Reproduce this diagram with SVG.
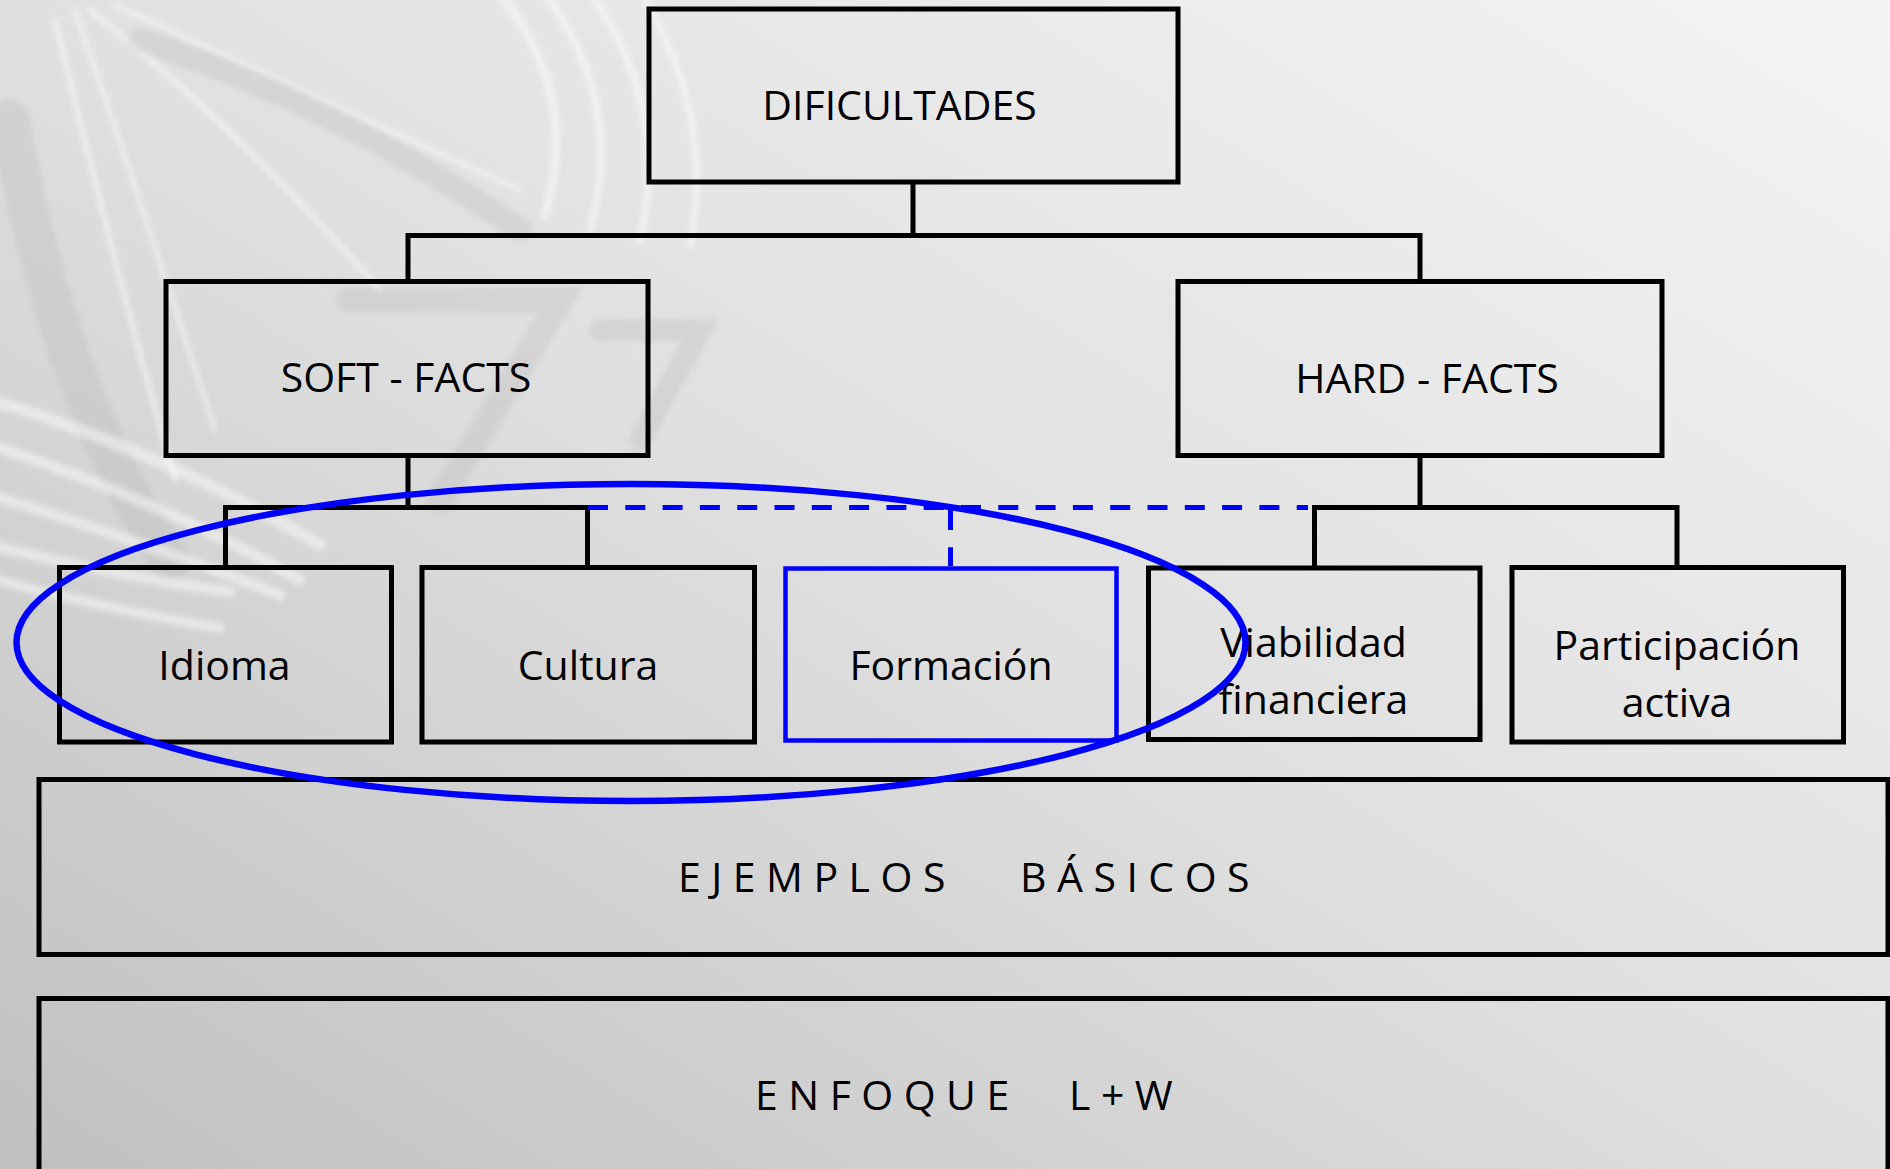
<svg xmlns="http://www.w3.org/2000/svg" width="1890" height="1169" viewBox="0 0 1890 1169">
<defs>
<linearGradient id="bg" x1="1" y1="0" x2="0" y2="1">
<stop offset="0" stop-color="#f4f4f4"/>
<stop offset="0.5" stop-color="#e0e0e0"/>
<stop offset="1" stop-color="#c0c0c0"/>
</linearGradient>
<filter id="soft" x="-10%" y="-10%" width="120%" height="120%">
<feGaussianBlur stdDeviation="2.5"/>
</filter>
<style>
.box{fill:none;stroke:#000;stroke-width:5}
.sel{fill:none;stroke:#0000ff;stroke-width:4.5}
.ln{fill:none;stroke:#000;stroke-width:5}
.dash{fill:none;stroke:#0000ff;stroke-width:5;stroke-dasharray:20 17.3}
.t{font-family:'Open Sans','Liberation Sans',sans-serif;font-size:41px;fill:#000}
.sp{letter-spacing:10.5px}
.wm{fill:none;stroke:#ffffff;stroke-opacity:0.45;stroke-linecap:round}
.wd{fill:none;stroke:#a8a8a8;stroke-opacity:0.22;stroke-linecap:round}
</style>
</defs>
<rect x="0" y="0" width="1890" height="1169" fill="url(#bg)"/>
<g id="watermark" filter="url(#soft)">
<path class="wd" stroke-width="40" d="M 10 120 Q 60 400 170 560"/>
<path class="wm" stroke-width="6" d="M 55 20 Q 110 250 175 480"/>
<path class="wm" stroke-width="5" d="M 75 10 Q 150 230 215 430"/>
<path class="wm" stroke-width="6" d="M 90 10 Q 230 120 380 290"/>
<path class="wm" stroke-width="5" d="M 115 5 Q 300 90 520 190"/>
<path class="wd" stroke-width="24" d="M 140 40 Q 330 100 520 230"/>
<path class="wm" stroke-width="9" d="M 505 0 Q 580 100 545 215"/>
<path class="wm" stroke-width="8" d="M 550 0 Q 625 110 590 230"/>
<path class="wm" stroke-width="8" d="M 595 0 Q 670 110 640 240"/>
<path class="wm" stroke-width="7" d="M 645 0 Q 715 120 690 245"/>
<path class="wm" stroke-width="12" d="M -10 400 Q 160 450 320 545"/>
<path class="wm" stroke-width="11" d="M -10 445 Q 160 500 300 580"/>
<path class="wm" stroke-width="11" d="M -10 495 Q 140 540 280 595"/>
<path class="wm" stroke-width="11" d="M -10 545 Q 110 575 230 592"/>
<path class="wm" stroke-width="10" d="M -10 578 Q 110 610 220 628"/>
<path class="wd" stroke-width="26" d="M 350 300 L 560 300 L 440 500"/>
<path class="wd" stroke-width="22" d="M 600 330 L 700 330 L 640 440"/>
</g>
<g id="connectors">
<path class="ln" d="M 913 182 V 235.5"/>
<path class="ln" d="M 408 281.5 V 235.5 H 1420 V 281.5"/>
<path class="ln" d="M 408 455.5 V 507.5"/>
<path class="ln" d="M 225.5 567.5 V 507.5 H 587.5 V 567.5"/>
<path class="ln" d="M 1420 455.5 V 507.5"/>
<path class="ln" d="M 1314.5 567.5 V 507.5 H 1677 V 567.5"/>
<path class="dash" d="M 588 507.5 H 1308"/>
<path class="dash" d="M 950.5 510 V 566"/>
</g>
<g id="dificultades">
<rect class="box" x="649" y="9" width="529" height="173"/>
<text class="t" x="899.5" y="119.5" text-anchor="middle">DIFICULTADES</text>
</g>
<g id="soft-facts">
<rect class="box" x="166" y="281.5" width="482" height="174"/>
<text class="t" x="406" y="392" text-anchor="middle">SOFT - FACTS</text>
</g>
<g id="hard-facts">
<rect class="box" x="1178" y="281.5" width="484" height="174"/>
<text class="t" x="1427" y="392.5" text-anchor="middle">HARD - FACTS</text>
</g>
<g id="idioma">
<rect class="box" x="59.5" y="567.5" width="332" height="174.5"/>
<text class="t" x="224.5" y="680" text-anchor="middle">Idioma</text>
</g>
<g id="cultura">
<rect class="box" x="422" y="567.5" width="332.5" height="174.5"/>
<text class="t" x="588" y="680" text-anchor="middle">Cultura</text>
</g>
<g id="formacion">
<rect class="sel" x="785.5" y="568.5" width="331" height="172"/>
<text class="t" x="951" y="680" text-anchor="middle">Formación</text>
</g>
<g id="viabilidad">
<rect class="box" x="1148.5" y="568" width="331.5" height="171.5"/>
<text class="t" x="1313.5" y="657" text-anchor="middle">Viabilidad</text>
<text class="t" x="1313.5" y="714" text-anchor="middle">financiera</text>
</g>
<g id="participacion">
<rect class="box" x="1512" y="567.5" width="331.5" height="174.5"/>
<text class="t" x="1677" y="660" text-anchor="middle">Participación</text>
<text class="t" x="1677" y="717" text-anchor="middle">activa</text>
</g>
<g id="ejemplos">
<rect class="box" x="39" y="779.5" width="1849" height="175"/>
<text class="t sp" y="892"><tspan x="678">EJEMPLOS</tspan><tspan x="1020">BÁSICOS</tspan></text>
</g>
<g id="enfoque">
<rect class="box" x="39" y="998.5" width="1849" height="200"/>
<text class="t sp" y="1110"><tspan x="755">ENFOQUE</tspan><tspan x="1069">L+W</tspan></text>
</g>
<g id="highlight">
<ellipse cx="631" cy="642.5" rx="614.5" ry="158.5" fill="none" stroke="#0000ff" stroke-width="6.5"/>
</g>
</svg>
